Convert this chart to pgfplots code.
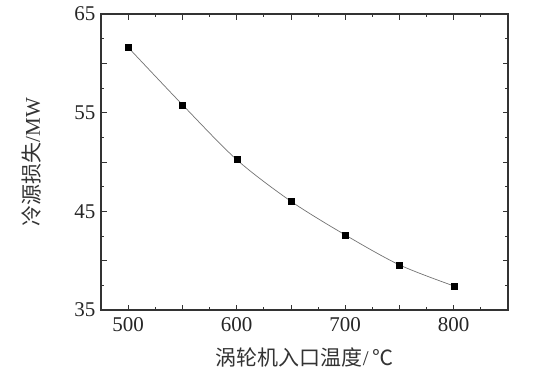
\documentclass[border=0pt]{standalone}
\usepackage{fontspec}
\setmainfont{Liberation Serif}
\newfontfamily\cjk{Noto Sans CJK SC}
\usepackage{pgfplots}
\pgfplotsset{compat=1.18}
\begin{document}
\begin{tikzpicture}
\begin{axis}[
  name=ax,
  scale only axis,
  width=407pt, height=296pt,
  xmin=475, xmax=850,
  ymin=35, ymax=65,
  xtick={500,550,...,800,850},
  xticklabels={500,,600,,700,,800,},
  minor x tick num=1,
  ytick={35,40,...,65},
  yticklabels={35,,45,,55,,65},
  minor y tick num=1,
  tick align=inside,
  major tick length=5.5pt,
  minor tick length=3pt,
  axis line style={line width=1.1pt, black!80},
  every tick/.style={black!80, line width=0.8pt},
  /pgf/number format/assume math mode=true,
  tick label style={font=\fontsize{21}{24}\selectfont, black!85},
  xticklabel style={yshift=-4pt},
  yticklabel style={xshift=-2pt},
  xlabel={{\cjk 涡轮机入口温度}/\,{\cjk ℃}},
  ylabel={{\cjk 冷源损失}/MW},
  xlabel style={font=\fontsize{21}{24}\selectfont, black!80, at={(axis description cs:0.5,-0.16)}, anchor=center},
  ylabel style={font=\fontsize{21}{24}\selectfont, black!80, at={(axis description cs:-0.17,0.5)}, anchor=center, rotate=0},
]
\addplot[smooth, black!55, line width=0.7pt, mark=square*,
  mark options={black, solid, line width=0.3pt}, mark size=3pt]
  coordinates {
  (500,61.62) (550,55.81) (600,50.24) (650,46.02)
  (700,42.61) (750,39.57) (800,37.44)
  };
\end{axis}
\path ([xshift=-101pt,yshift=-76pt]ax.south west) rectangle ([xshift=29pt,yshift=14pt]ax.north east);
\end{tikzpicture}
\end{document}
